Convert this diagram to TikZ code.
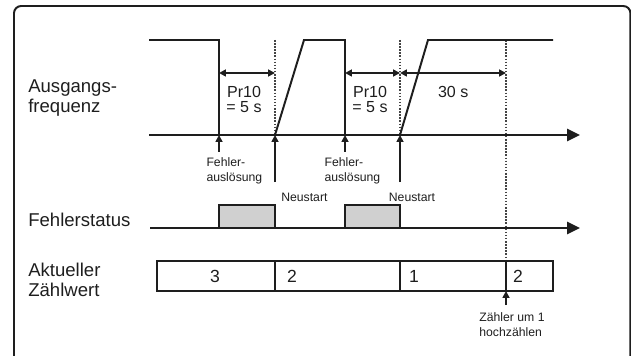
\documentclass[tikz,border=0pt]{standalone}
\usepackage{fontspec}
\setmainfont{Liberation Sans}
\usetikzlibrary{arrows.meta}
\definecolor{plotfg}{HTML}{1E1E1E}
\definecolor{plotgray}{HTML}{D0D0D0}
\definecolor{plotdot}{HTML}{444444}

\begin{document}
\begin{tikzpicture}[x=1cm,y=1cm,>={Triangle[length=0.17cm,width=0.17cm]},font=\fontsize{10.5}{11}\selectfont]
  \tikzstyle{label}=[font=\fontsize{13.2}{14.2}\selectfont, text=plotfg, align=left, anchor=west, inner sep=0pt]
  \tikzstyle{note}=[font=\fontsize{8.7}{10.6}\selectfont, text=plotfg, align=left, inner sep=0pt]
  \tikzstyle{value}=[font=\fontsize{11.4}{10.9}\selectfont, text=plotfg, align=center, inner sep=0pt]
  \tikzstyle{digit}=[font=\fontsize{12.5}{12}\selectfont, text=plotfg, inner sep=0pt]
  \tikzstyle{signal}=[draw=plotfg, line width=1.4pt]
  \tikzstyle{axis}=[draw=plotfg, line width=1.4pt, -{Triangle[length=0.32cm,width=0.3cm]}]
  \tikzstyle{arrow}=[->, draw=plotfg, line width=1.3pt]
  \tikzstyle{dimarrow}=[<->, draw=plotfg, line width=1.3pt]
  \tikzstyle{marker}=[draw=plotdot, line width=1.3pt, dash pattern=on 1.1pt off 1.1pt]
  \tikzstyle{faultbox}=[draw=plotfg, fill=plotgray, line width=1.4pt]

  \clip (0,0) rectangle (15.775,-8.9);
  \draw[plotfg, line width=1.4pt, rounded corners=0.18cm] (0.35,-0.15) rectangle (15.76,-9.4);

  \node[label] (freq) at (0.7,-2.45) {Ausgangs-\\frequenz};
  \node[label] (status) at (0.7,-5.5) {Fehlerstatus};
  \node[label] (count) at (0.7,-6.99) {Aktueller\\Zählwert};

  \foreach \x/\i in {5.475/f1,6.875/r1,8.625/f2,10.0/r2,12.65/c} {
    \coordinate (top\i) at (\x,-1.0);
    \coordinate (dim\i) at (\x,-1.825);
    \coordinate (ax\i) at (\x,-3.375);
    \coordinate (hi\i) at (\x,-5.125);
    \coordinate (st\i) at (\x,-5.7);
    \coordinate (cnt\i) at (\x,-6.525);
    \coordinate (cntb\i) at (\x,-7.275);
  }
  \coordinate (sigstart) at (3.725,-1.0);
  \coordinate (peak1) at (7.6,-1.0);
  \coordinate (peak2) at (10.7,-1.0);
  \coordinate (sigend) at (13.825,-1.0);
  \coordinate (ax0) at (3.725,-3.375);
  \coordinate (axend) at (14.5,-3.375);
  \coordinate (st0) at (3.75,-5.7);
  \coordinate (stend) at (14.5,-5.7);
  \coordinate (box0) at (3.925,-6.525);
  \coordinate (box1) at (13.825,-7.275);

  \draw[marker] (topr1) -- (axr1);
  \draw[marker] (topr2) -- (axr2);
  \draw[marker] (topc) -- (cntc);

  \draw[signal] (sigstart) -- (topf1) -- (axf1);
  \draw[signal] (axr1) -- (peak1) -- (topf2) -- (axf2);
  \draw[signal] (axr2) -- (peak2) -- (sigend);
  \draw[axis] (ax0) -- (axend);

  \draw[dimarrow] (dimf1) -- (dimr1);
  \draw[dimarrow] (dimf2) -- (dimr2);
  \draw[dimarrow] (dimr2) -- (dimc);
  \node[value] (pr1) at (6.1,-2.49) {Pr10\\= 5 s};
  \node[value] (pr2) at (9.25,-2.49) {Pr10\\= 5 s};
  \node[value] (wait) at (11.33,-2.3) {30 s};

  \foreach \x/\i/\y in {5.475/f1/-3.8,6.875/r1/-4.55,8.625/f2/-3.8,10.0/r2/-4.55} {
    \coordinate (low\i) at (\x,\y);
    \draw[arrow] (low\i) -- (ax\i);
  }
  \node[note] (fault1) at (5.86,-4.26) {Fehler-\\auslösung};
  \node[note] (fault2) at (8.81,-4.26) {Fehler-\\auslösung};
  \node[note] (restart1) at (7.61,-4.925) {Neustart};
  \node[note] (restart2) at (10.3,-4.925) {Neustart};

  \draw[faultbox] (stf1) rectangle (hir1);
  \draw[faultbox] (stf2) rectangle (hir2);
  \draw[axis] (st0) -- (stend);

  \draw[signal] (box0) rectangle (box1);
  \foreach \i in {r1,r2,c} {
    \draw[signal] (cnt\i) -- (cntb\i);
  }
  \foreach \x/\n/\v in {5.375/a/3,7.3/b/2,10.35/c/1,12.95/d/2} {
    \node[digit] (val\n) at (\x,-6.9) {\v};
  }

  \coordinate (lowc) at (12.65,-7.625);
  \draw[arrow] (lowc) -- (cntbc);
  \node[note] (increment) at (12.8,-8.125) {Zähler um 1\\hochzählen};
\end{tikzpicture}
\end{document}
